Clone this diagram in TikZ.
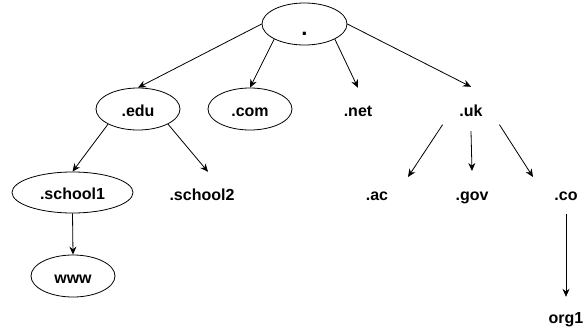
\documentclass[tikz,border=0pt]{standalone}
\usepackage{fontspec}
\setmainfont{Liberation Sans}
\usetikzlibrary{arrows.meta,shapes.geometric}
\begin{document}
\begin{tikzpicture}[x=1pt,y=-1pt,
  every node/.style={font=\fontsize{16}{19}\selectfont\bfseries, inner sep=0pt, text height=14pt, text depth=0pt},
  oval/.style={draw, ellipse, minimum width=84pt, minimum height=42pt, line width=0.8pt},
  lbl/.style={minimum height=42pt, minimum width=40pt},
  arr/.style={-{Stealth[length=8pt,width=7pt]}, line width=0.8pt}]
\useasboundingbox (0,0) rectangle (587,327);
% nodes
\node[oval, minimum width=85pt, text height=23pt, font=\fontsize{22}{22}\selectfont\bfseries] (root) at (304.5,24) {.};
\node[oval] (edu) at (138,109) {.edu};
\node[oval] (com) at (250,109) {.com};
\node[lbl] (net) at (358,109) {.net};
\node[lbl, ellipse, minimum width=80pt, minimum height=44pt] (uk) at (471,109) {.uk};
\node[oval, minimum width=121pt, minimum height=41pt] (school1) at (72.5,192.5) {.school1};
\node[lbl] (school2) at (202,193) {.school2};
\node[oval] (www) at (73,276) {www};
\node[lbl] (ac) at (377,193) {.ac};
\node[lbl] (gov) at (472,193) {.gov};
\node[lbl] (co) at (566,193) {.co};
\node[lbl] (org1) at (566,316) {org1};
\coordinate (acIn) at (408,177);
\coordinate (govIn) at (472,171);
\coordinate (coIn) at (533,177);
% connectors
\draw[arr] (root.west) -- (edu.north);
\draw[arr] (root.south west) -- (com.north);
\draw[arr] (root.south east) -- (net.north);
\draw[arr] (root.east) -- (uk.north);
\draw[arr] (edu.south west) -- (school1.north);
\draw[arr] (edu.south east) -- ([xshift=6pt]school2.north);
\draw[arr] (school1.south) -- (www.north);
\draw[arr] (uk.south west) -- (acIn);
\draw[arr] (uk.south) -- (govIn);
\draw[arr] (uk.south east) -- (coIn);
\draw[arr] (co.south) -- ([yshift=-2pt]org1.north);
\end{tikzpicture}
\end{document}
